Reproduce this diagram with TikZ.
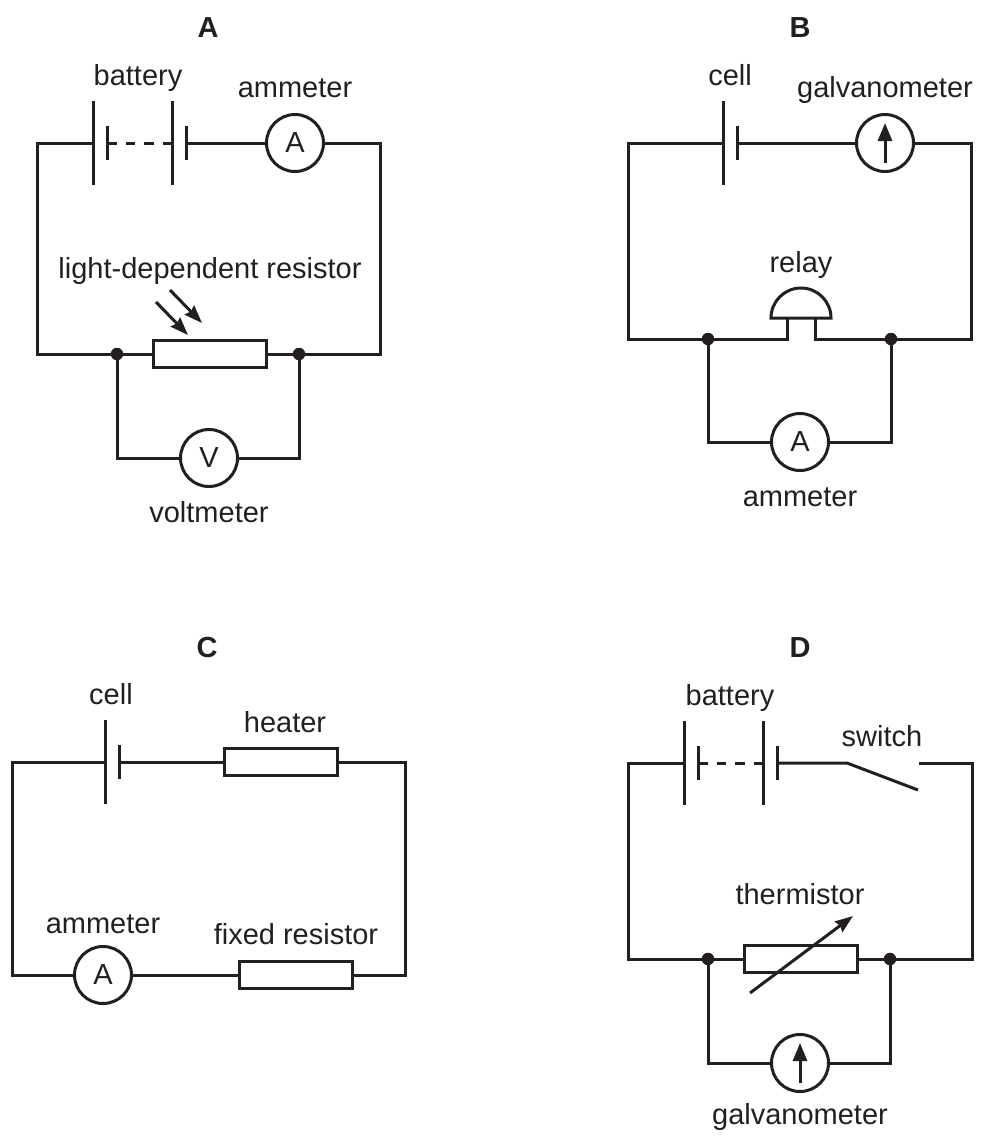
\documentclass[tikz,border=0pt]{standalone}
\usepackage{fontspec}
\setmainfont{Liberation Sans}
\usetikzlibrary{arrows.meta,positioning,calc}
\definecolor{ink}{RGB}{35,31,32}
\begin{document}
\begin{tikzpicture}[
x=1pt,y=-1pt,
wire/.style={
  draw=ink,
  line width=3pt,
  line join=miter
  },
ar/.style={
  draw=ink,
  line width=3pt,
  -{Stealth[length=18pt,width=13pt,inset=2pt]}
  },
gar/.style={
  draw=ink,
  line width=3pt,
  -{Stealth[length=18pt,width=14pt,inset=0pt]}
  },
dsh/.style={
  wire,
  dash pattern=on 9.5pt off 9pt
  },
plong/.style={
  fill=ink,
  inner sep=0pt,
  outer sep=0pt,
  minimum width=3pt,
  minimum height=84pt
  },
pshort/.style={
  fill=ink,
  inner sep=0pt,
  outer sep=0pt,
  minimum width=3pt,
  minimum height=34pt
  },
meter/.style={
  circle,
  draw=ink,
  line width=3pt,
  inner sep=0pt,
  minimum size=57pt,
  text=ink,
  font=\fontsize{29}{29}\selectfont
  },
res/.style={
  draw=ink,
  line width=3pt,
  inner sep=0pt,
  minimum width=113pt,
  minimum height=27pt
  },
jn/.style={
  circle,
  fill=ink,
  inner sep=0pt,
  minimum size=12.5pt
  },
lab/.style={
  text=ink,
  inner sep=0pt,
  font=\fontsize{29}{29}\selectfont\strut
  },
ttl/.style={
  text=ink,
  inner sep=0pt,
  font=\fontsize{29}{29}\selectfont\bfseries
  }
]
\useasboundingbox (0,0) rectangle (984,1146);

%The circuit A
\node[ttl] (ta) at (208,28) {A};
\node[plong] (a1) at (93,143) {};
\node[pshort] (a2) at (107,143) {};
\node[plong] (a3) at (172,143) {};
\node[pshort] (a4) at (186,143) {};
\node[meter] (am) at (295,143) {A};
\node[res] (ldr) at (210,354) {};
\node[jn] (ad1) at (117,354) {};
\node[jn] (ad2) at (299,354) {};
\node[meter] (av) at (209,458) {V};
\node[lab] at (138,79) (abat) {battery};
\node[lab,above=6.5pt of am] (aam) {ammeter};
\node[lab] at (210,272) (aldr) {light-dependent resistor};
\node[lab,below=13pt of av] (avo) {voltmeter};

\coordinate (atl) at (37,143);
\coordinate (atr) at (380,143);
\coordinate (abl) at (37,354);
\coordinate (abr) at (380,354);
\coordinate (avl) at (117,458);
\coordinate (avr) at (299,458);
\coordinate (ar1) at (156,302);
\coordinate (ar2) at (188,335);
\coordinate (ar3) at (170,290);
\coordinate (ar4) at (202,323);

\draw[wire] (a1.center) -- (atl) -- (abl) -- (ad1);
\draw[wire] (ad1) -- (ldr);
\draw[wire] (ldr) -- (ad2);
\draw[wire] (ad2) -- (abr) -- (atr) -- (am);
\draw[wire] (a4.center) -- (am);
\draw[dsh] (a2.center) -- (a3.center);
\draw[wire] (ad1) -- (avl) -- (av);
\draw[wire] (ad2) -- (avr) -- (av);
\draw[ar] (ar1) -- (ar2);
\draw[ar] (ar3) -- (ar4);

%The circuit B
\node[ttl] (tb) at (800,28) {B};
\node[plong] (b1) at (723,143) {};
\node[pshort] (b2) at (737,143) {};
\node[meter] (bg) at (885,143) {};
\node[jn] (bd1) at (708,339) {};
\node[jn] (bd2) at (891,339) {};
\node[meter] (ba) at (800,442) {A};
\node[lab] at (730,79) (bcell) {cell};
\node[lab,above=6.5pt of bg] (bgal) {galvanometer};
\node[lab] at (801,266) (brel) {relay};
\node[lab,below=14pt of ba] (bam) {ammeter};

\coordinate (btl) at (628,143);
\coordinate (btr) at (971,143);
\coordinate (bbl) at (628,339);
\coordinate (bbr) at (971,339);
\coordinate (bal) at (708,442);
\coordinate (bar) at (891,442);
\coordinate (rl) at (771,318);
\coordinate (rs1) at (787,318);
\coordinate (rs2) at (815,318);
\coordinate (rb1) at (787,339);
\coordinate (rb2) at (815,339);

\draw[wire] (b1.center) -- (btl) -- (bbl) -- (bd1);
\draw[wire] (b2.center) -- (bg);
\draw[wire] (bg) -- (btr) -- (bbr) -- (bd2);
\draw[wire] (bd1) -- (rb1) -- (rs1);
\draw[wire] (bd2) -- (rb2) -- (rs2);
\draw[wire] (rl) arc[start angle=180,end angle=0,radius=30pt] -- cycle;
\draw[wire] (bd1) -- (bal) -- (ba);
\draw[wire] (bd2) -- (bar) -- (ba);
\draw[gar] ([yshift=-20pt]bg.center) -- ([yshift=20pt]bg.center);

%The circuit C
\node[ttl] (tc) at (207,648) {C};
\node[plong] (c1) at (105,762) {};
\node[pshort] (c2) at (119,762) {};
\node[res] (heat) at (281,762) {};
\node[meter] (ca) at (103,975) {A};
\node[res] (fix) at (296,975) {};
\node[lab] at (111,698) (ccell) {cell};
\node[lab] at (285,726) (cheat) {heater};
\node[lab,above=2.5pt of ca] (cam) {ammeter};
\node[lab] at (296,938) (cfix) {fixed resistor};

\coordinate (ctl) at (12,762);
\coordinate (ctr) at (405,762);
\coordinate (cbl) at (12,975);
\coordinate (cbr) at (405,975);

\draw[wire] (c1.center) -- (ctl) -- (cbl) -- (ca);
\draw[wire] (c2.center) -- (heat);
\draw[wire] (heat) -- (ctr) -- (cbr) -- (fix);
\draw[wire] (ca) -- (fix);

%The circuit D
\node[ttl] (td) at (800,648) {D};
\node[plong] (d1) at (684,763) {};
\node[pshort] (d2) at (698,763) {};
\node[plong] (d3) at (763,763) {};
\node[pshort] (d4) at (777,763) {};
\node[res] (therm) at (801,959) {};
\node[jn] (dd1) at (708,959) {};
\node[jn] (dd2) at (890,959) {};
\node[meter] (dg) at (800,1063) {};
\node[lab] at (730,699) (dbat) {battery};
\node[lab] at (882,740) (dsw) {switch};
\node[lab] at (800,898) (dth) {thermistor};
\node[lab,below=10pt of dg] (dgal) {galvanometer};

\coordinate (dtl) at (628,763);
\coordinate (dtr) at (972,763);
\coordinate (dbl) at (628,959);
\coordinate (dbr) at (972,959);
\coordinate (dgl) at (708,1063);
\coordinate (dgr) at (890,1063);
\coordinate (swa) at (847,763);
\coordinate (swb) at (918,790);
\coordinate (swc) at (919,763);
\coordinate (ar5) at (750,993);
\coordinate (ar6) at (853,916);

\draw[wire] (d1.center) -- (dtl) -- (dbl) -- (dd1);
\draw[dsh] (d2.center) -- (d3.center);
\draw[wire] (d4.center) -- (swa) -- (swb);
\draw[wire] (swc) -- (dtr) -- (dbr) -- (dd2);
\draw[wire] (dd1) -- (therm);
\draw[wire] (therm) -- (dd2);
\draw[wire] (dd1) -- (dgl) -- (dg);
\draw[wire] (dd2) -- (dgr) -- (dg);
\draw[gar] ([yshift=-20pt]dg.center) -- ([yshift=20pt]dg.center);
\draw[ar] (ar5) -- (ar6);

\end{tikzpicture}
\end{document}
